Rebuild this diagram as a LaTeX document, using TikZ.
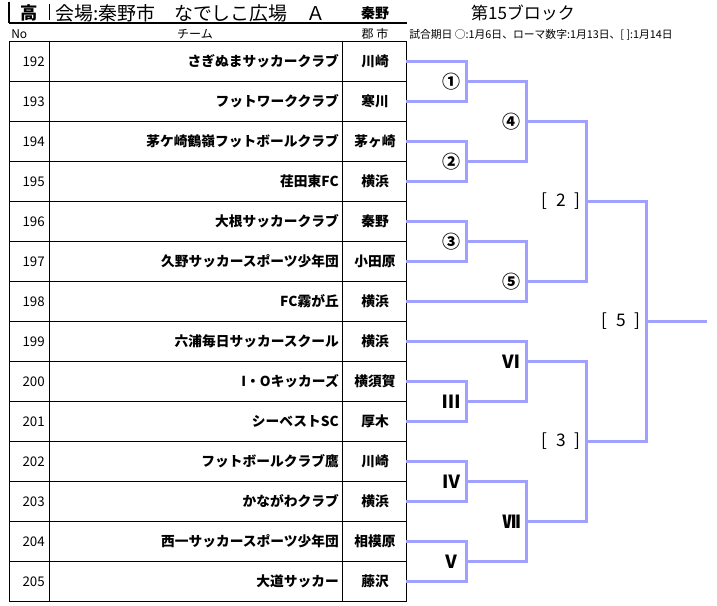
\documentclass[tikz,border=0pt]{standalone}
\usepackage{fontspec}
\setmainfont{Noto Sans CJK JP}
\usepackage{tikz}
\usetikzlibrary{positioning}
\definecolor{brkblue}{RGB}{160,160,255}

\begin{document}
\begin{tikzpicture}[x=0.75pt, y=-0.75pt,
    brk/.style={draw=brkblue, line width=1.9pt},
    lbl/.style={inner sep=0pt, font=\fontsize{13.5}{13.5}\selectfont\bfseries},
    num/.style={anchor=east, inner sep=0pt, font=\fontsize{10}{10}\selectfont},
    team/.style={anchor=east, inner sep=0pt, font=\fontsize{10.3}{10}\selectfont\bfseries},
    city/.style={inner sep=0pt, font=\fontsize{10.3}{10}\selectfont\bfseries},
    head/.style={inner sep=0pt, font=\fontsize{9}{9}\selectfont}]
  \useasboundingbox (0,0) rectangle (717,606);

  % title line
  \draw [line width=1.5pt] (9,2) -- (9,23);
  \draw [line width=1.1pt] (9,23) -- (407,23);
  \draw [line width=0.75pt] (49,4) -- (49,20);
  \node (high) at (29,13) {\fontsize{13}{13}\selectfont\bfseries 高};
  \node[anchor=west, inner sep=0pt] (venue) at (55,13)
    {\fontsize{14.2}{14.2}\selectfont 会場:秦野市　なでしこ広場　Ａ};
  \node[inner sep=0pt] (host) at (375,13) {\fontsize{10.5}{10.5}\selectfont\bfseries 秦野};
  \node[inner sep=0pt] (block) at (523,13) {\fontsize{12.75}{12.75}\selectfont 第15ブロック};
  \node[head, anchor=west] (hno) at (11,34) {No};
  \node[head] (hteam) at (195,34) {チーム};
  \node[head] (hcity) at (375,34) {郡\hspace{2pt}市};
  \node[anchor=west, inner sep=0pt] (dates) at (409,35)
    {\fontsize{8.1}{8.1}\selectfont 試合期日 ○:1月6日、ローマ数字:1月13日、[ ]:1月14日};

  % table
  \draw [line width=0.75pt] (9,41.5) rectangle (406,601.5);
  \draw [line width=0.75pt] (49,41.5) -- (49,601.5);
  \draw [line width=0.75pt] (342,41.5) -- (342,601.5);
  \foreach \k in {1,...,13}
    \draw [line width=0.75pt] (9,41.5+40*\k) -- (406,41.5+40*\k);

  \foreach \no/\team/\city [count=\i from 0] in {
      192/さぎぬまサッカークラブ/川崎,
      193/フットワーククラブ/寒川,
      194/茅ケ崎鶴嶺フットボールクラブ/茅ヶ崎,
      195/荏田東FC/横浜,
      196/大根サッカークラブ/秦野,
      197/久野サッカースポーツ少年団/小田原,
      198/FC霧が丘/横浜,
      199/六浦毎日サッカースクール/横浜,
      200/I・Oキッカーズ/横須賀,
      201/シーベストSC/厚木,
      202/フットボールクラブ鷹/川崎,
      203/かながわクラブ/横浜,
      204/西一サッカースポーツ少年団/相模原,
      205/大道サッカー/藤沢} {
    \coordinate (r\no) at (406,61.5+40*\i);
    \node[num] (n\no) at (45,61.5+40*\i) {\no};
    \node[team] (t\no) at (339,61.5+40*\i) {\team};
    \node[city] (c\no) at (375,61.5+40*\i) {\city};
  }

  % bracket
  \coordinate (m1) at (466.7,81.5);
  \coordinate (m2) at (466.7,161.5);
  \coordinate (m3) at (466.7,241.5);
  \coordinate (mIII) at (466.7,401.5);
  \coordinate (mIV) at (466.7,481.5);
  \coordinate (mV) at (466.7,561.5);
  \coordinate (m4) at (526.7,121.5);
  \coordinate (m5) at (526.7,281.5);
  \coordinate (mVI) at (526.7,361.5);
  \coordinate (mVII) at (526.7,521.5);
  \coordinate (k2) at (586.7,201.5);
  \coordinate (k3) at (586.7,441.5);
  \coordinate (k5) at (646.7,321.5);
  \coordinate (win) at (706.7,321.5);

  \foreach \a/\m/\b in {r192/m1/r193, r194/m2/r195, r196/m3/r197,
      m1/m4/m2, m3/m5/r198, m4/k2/m5,
      r200/mIII/r201, r199/mVI/mIII, r202/mIV/r203, r204/mV/r205,
      mIV/mVII/mV, mVI/k3/mVII, k2/k5/k3}
    \draw [brk] (\a) -| (\m) |- (\b);
  \draw [brk] (k5) -- (win);

  \foreach \m/\t in {m1/①, m2/②, m3/③, m4/④, m5/⑤,
      mIII/Ⅲ, mIV/Ⅳ, mV/Ⅴ, mVI/Ⅵ, mVII/Ⅶ}
    \node[lbl, left=4.5pt of \m] (l\m) {\t};
  \foreach \m/\t in {k2/2, k3/3, k5/5}
    \node[lbl, font=\fontsize{13}{13}\selectfont, left=4.5pt of \m] (l\m)
      {[\hspace{.5em}\t\hspace{.5em}]};
\end{tikzpicture}
\end{document}
